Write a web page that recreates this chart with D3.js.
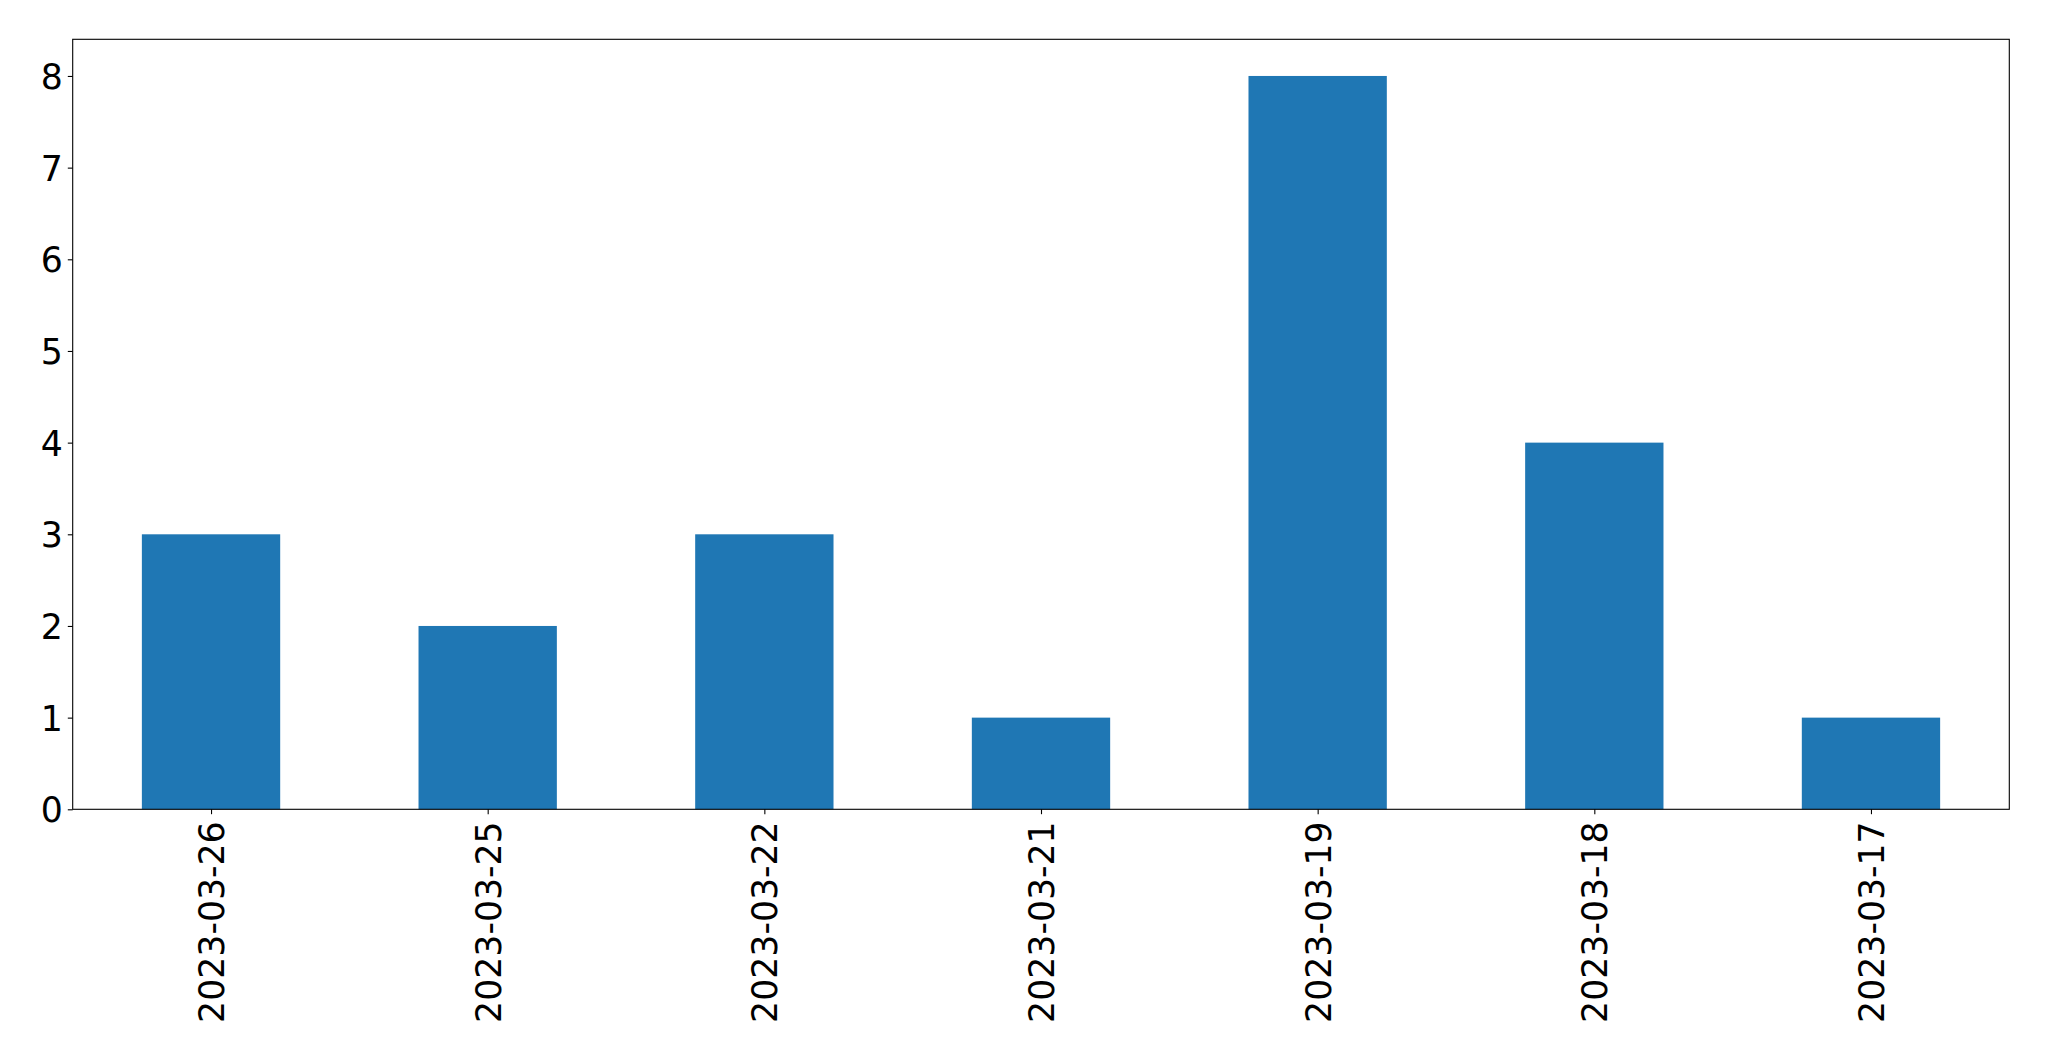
<!DOCTYPE html>
<html><head><meta charset="utf-8">
<script src="https://cdn.jsdelivr.net/npm/d3@7"></script>
<style>body{margin:0;background:#fff}svg{display:block}</style>
</head><body>
<script>
const categories = ["2023-03-26","2023-03-25","2023-03-22","2023-03-21","2023-03-19","2023-03-18","2023-03-17"];
const values = [3,2,3,1,8,4,1];
const yTicks = [0,1,2,3,4,5,6,7,8];

const W = 2049, H = 1061;
const L = 72.7, R = 2009.3, T = 39.3, B = 809.3;
const font = "'DejaVu Sans', sans-serif";
const fs = 34.7;

const svg = d3.select("body").append("svg").attr("width", W).attr("height", H);
const x = d3.scalePoint().domain(categories).range([L, R]).padding(0.5);
const step = x.step();
const y = d3.scaleLinear().domain([0, 8.4]).range([B, T]);

svg.append("g").selectAll("rect").data(values).join("rect")
  .attr("x", (d, i) => x(categories[i]) - step * 0.25)
  .attr("width", step * 0.5)
  .attr("y", d => y(d))
  .attr("height", d => B - y(d))
  .attr("fill", "#1f77b4");

const yAxis = d3.axisLeft(y).tickValues(yTicks).tickFormat(d3.format("d")).tickSize(4.9).tickPadding(4.9);
const gy = svg.append("g").attr("transform", `translate(${L},0)`).call(yAxis);
gy.select(".domain").remove();
gy.selectAll("line").attr("stroke", "#000").attr("stroke-width", 1.1);
gy.selectAll("text").attr("font-family", font).attr("font-size", fs).attr("fill", "#000").attr("dy", "0.36em");

const xAxis = d3.axisBottom(x).tickSize(4.9).tickPadding(4.9);
const gx = svg.append("g").attr("transform", `translate(0,${B})`).call(xAxis);
gx.select(".domain").remove();
gx.selectAll("line").attr("stroke", "#000").attr("stroke-width", 1.1);
gx.selectAll("text").attr("font-family", font).attr("font-size", fs).attr("fill", "#000")
  .attr("text-anchor", "end").attr("dy", null)
  .attr("transform", "translate(0,12) rotate(-90)")
  .attr("x", 0).attr("y", 0).attr("dy", "0.36em");

svg.append("rect").attr("x", L).attr("y", T).attr("width", R - L).attr("height", B - T)
  .attr("fill", "none").attr("stroke", "#000").attr("stroke-width", 1.1);
</script>
</body></html>
